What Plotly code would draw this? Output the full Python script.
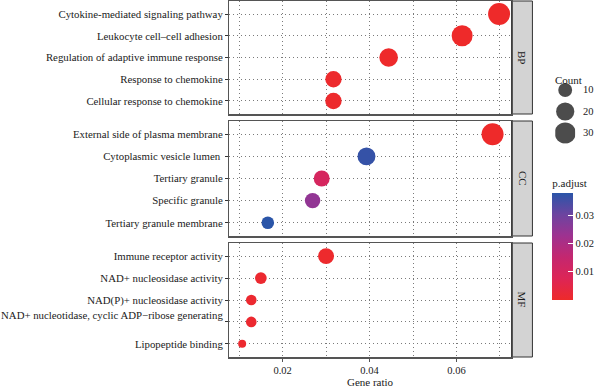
import numpy as np
import plotly.graph_objects as go

# ---------------- data ----------------
BP_TERMS = ["Cytokine-mediated signaling pathway", "Leukocyte cell–cell adhesion",
            "Regulation of adaptive immune response", "Response to chemokine",
            "Cellular response to chemokine"]
BP_RATIO = [0.0698, 0.0613, 0.0444, 0.0317, 0.0317]
BP_COUNT = [33, 29, 21, 15, 15]
BP_PADJ = [0.000001, 0.00001, 0.0002, 0.0005, 0.0005]

CC_TERMS = ["External side of plasma membrane", "Cytoplasmic vesicle lumen ",
            "Tertiary granule", "Specific granule", "Tertiary granule membrane"]
CC_RATIO = [0.0683, 0.0393, 0.0290, 0.0269, 0.0166]
CC_COUNT = [33, 19, 14, 13, 8]
CC_PADJ = [0.00001, 0.0365, 0.0100, 0.0245, 0.0378]

MF_TERMS = ["Immune receptor activity", "NAD+ nucleosidase activity",
            "NAD(P)+ nucleosidase activity",
            "NAD+ nucleotidase, cyclic ADP−ribose generating<br> ",
            "Lipopeptide binding"]
MF_RATIO = [0.0300, 0.0150, 0.0128, 0.0128, 0.0107]
MF_COUNT = [14, 7, 6, 6, 5]
MF_PADJ = [0.0005, 0.001, 0.001, 0.001, 0.0008]

FACETS = ["BP", "CC", "MF"]
LEGEND_COUNTS = [10, 20, 30]
CBAR_TICKS = [0.01, 0.02, 0.03]
X_TICKS = [0.02, 0.04, 0.06]

# ---------------- styling ----------------
W, H = 600, 388
FONT = "Liberation Serif"
TXT = "#1a1a1a"
GRID = "#7a7a7a"
GDASH = "1px,3px"
BORDER = "#555555"

all_counts = BP_COUNT + CC_COUNT + MF_COUNT
all_padj = BP_PADJ + CC_PADJ + MF_PADJ
CMIN_C, CMAX_C = min(all_counts), max(all_counts)
DMIN, DMAX = 8.0, 22.0


def diam(c):
    c = np.asarray(c, dtype=float)
    return DMIN + (DMAX - DMIN) * np.sqrt((c - CMIN_C) / (CMAX_C - CMIN_C))


COLORSCALE = [[0.0, "#EE2A2A"], [0.2, "#DD2556"], [0.4, "#C4276F"],
              [0.6, "#9E3290"], [0.8, "#6C44A0"], [1.0, "#2A55A8"]]
PMIN, PMAX = min(all_padj), max(all_padj)


def px_x(p):
    return p / W


def px_y(p):
    return 1 - p / H


X_DOM = [px_x(231), px_x(515)]
Y_DOMS = [[px_y(114), px_y(1)], [px_y(236), px_y(121)], [px_y(357), px_y(243)]]
XR = [0.00778, 0.07267]

fig = go.Figure()

panels = [(BP_TERMS, BP_RATIO, BP_COUNT, BP_PADJ),
          (CC_TERMS, CC_RATIO, CC_COUNT, CC_PADJ),
          (MF_TERMS, MF_RATIO, MF_COUNT, MF_PADJ)]

for i, (terms, ratio, count, padj) in enumerate(panels):
    ax = "" if i == 0 else str(i + 1)
    fig.add_trace(go.Scatter(
        x=ratio, y=terms, mode="markers",
        xaxis="x" + ax, yaxis="y" + ax, showlegend=False,
        marker=dict(size=diam(count), color=padj, colorscale=COLORSCALE,
                    cmin=PMIN, cmax=PMAX, opacity=1, line=dict(width=0),
                    showscale=(i == 0),
                    colorbar=dict(
                        title=dict(text="p.adjust", side="top",
                                   font=dict(family=FONT, size=11, color=TXT)),
                        x=px_x(556), xanchor="left",
                        y=px_y(300), yanchor="bottom",
                        lenmode="pixels", len=124, thickness=21,
                        outlinewidth=0, tickvals=CBAR_TICKS,
                        ticks="inside", ticklen=5, tickcolor="white",
                        tickfont=dict(family=FONT, size=10.5, color=TXT),
                        xpad=0, ypad=0)),
        hoverinfo="skip"))

    xa = dict(domain=X_DOM, range=XR, tickvals=X_TICKS, automargin=False,
              showgrid=True, gridcolor=GRID, griddash=GDASH, gridwidth=1,
              minor=dict(dtick=0.01, tick0=0, showgrid=True, gridcolor=GRID,
                         griddash=GDASH, gridwidth=1),
              showline=True, mirror=True, linecolor=BORDER, linewidth=1.5,
              zeroline=False, ticks="outside" if i == 2 else "",
              ticklen=3, tickcolor=BORDER,
              showticklabels=(i == 2), tickformat=".2f",
              tickfont=dict(family=FONT, size=10.5, color=TXT),
              anchor="y" + ax)
    ya = dict(domain=Y_DOMS[i], categoryorder="array", automargin=False,
              categoryarray=list(reversed(terms)), range=[-0.6, 4.6],
              showgrid=True, gridcolor=GRID, griddash=GDASH, gridwidth=1,
              showline=True, mirror=True, linecolor=BORDER, linewidth=1.5,
              zeroline=False, ticks="outside", ticklen=3, tickcolor="#333333",
              tickfont=dict(family=FONT, size=10.8, color=TXT),
              anchor="x" + ax)
    if i > 0:
        xa["matches"] = "x"
    fig.layout["xaxis" + ax] = xa
    fig.layout["yaxis" + ax] = ya

    # facet strip
    y0, y1 = Y_DOMS[i]
    fig.add_shape(type="rect", xref="paper", yref="paper",
                  x0=px_x(515), x1=px_x(536), y0=y0, y1=y1,
                  fillcolor="#D3D3D3", line=dict(color="#333333", width=1),
                  layer="below")
    fig.add_annotation(text=FACETS[i], xref="paper", yref="paper",
                       x=px_x(526), y=(y0 + y1) / 2, showarrow=False,
                       xanchor="center", yanchor="middle",
                       textangle=90, font=dict(family=FONT, size=11, color=TXT))

# x-axis title
fig.add_annotation(text="Gene ratio", xref="paper", yref="paper",
                   x=(X_DOM[0] + X_DOM[1]) / 2, y=px_y(382), showarrow=False,
                   yanchor="middle",
                   font=dict(family=FONT, size=11, color=TXT))

# size legend (Count) on its own hidden axes
fig.add_trace(go.Scatter(
    x=[0.5] * len(LEGEND_COUNTS), y=list(range(1, len(LEGEND_COUNTS) + 1)),
    mode="markers", xaxis="x4", yaxis="y4", showlegend=False,
    marker=dict(size=diam(LEGEND_COUNTS), color="black", line=dict(width=0)),
    hoverinfo="skip"))
fig.layout["xaxis4"] = dict(domain=[px_x(559), px_x(579)], range=[0, 1],
                            visible=False, anchor="y4", automargin=False)
fig.layout["yaxis4"] = dict(domain=[px_y(143.75), px_y(79.25)],
                            range=[len(LEGEND_COUNTS) + 0.5, 0.5],
                            visible=False, anchor="x4", automargin=False)
for k, c in enumerate(LEGEND_COUNTS):
    fig.add_annotation(text=str(c), xref="paper", yref="y4",
                       x=px_x(585), y=k + 1, xanchor="left", showarrow=False,
                       font=dict(family=FONT, size=10.5, color=TXT))
fig.add_annotation(text="Count", xref="paper", yref="paper",
                   x=px_x(557), y=px_y(72), xanchor="left", showarrow=False,
                   font=dict(family=FONT, size=11, color=TXT))

fig.update_layout(width=W, height=H, margin=dict(l=0, r=0, t=0, b=0),
                  paper_bgcolor="white", plot_bgcolor="white",
                  font=dict(family=FONT, color=TXT), showlegend=False)

fig.write_html("out.html",
               config={"displayModeBar": False, "staticPlot": True},
               post_script="document.body.style.margin='0';"
                           "document.body.style.overflow='hidden';")
